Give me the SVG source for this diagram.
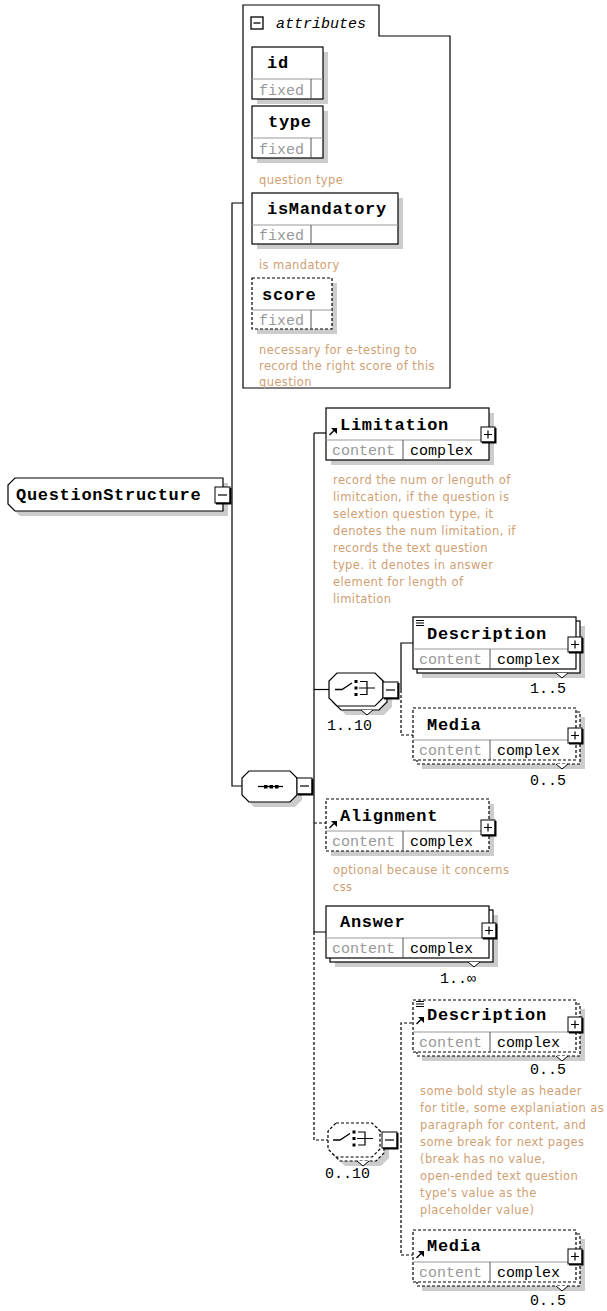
<svg xmlns="http://www.w3.org/2000/svg" xmlns:xlink="http://www.w3.org/1999/xlink" width="607" height="1311" viewBox="0 0 607 1311">
<style>
.box{fill:#fff;stroke:#000;stroke-width:1.2}
.dbox{fill:#fff;stroke:#000;stroke-width:1.2;stroke-dasharray:3 2}
.sh{fill:#cccccc}
.div{stroke:#999;stroke-width:1}
.vdiv{stroke:#555;stroke-width:1}
.name{font-family:"Liberation Mono",monospace;font-weight:bold;font-size:17px;letter-spacing:0.7px;fill:#000}
.cont{font-family:"Liberation Mono",monospace;font-size:15px;fill:#999}
.cplx{font-family:"Liberation Mono",monospace;font-size:15px;fill:#000}
.occ{font-family:"Liberation Mono",monospace;font-size:15px;fill:#000}
.doc{font-family:"DejaVu Sans",sans-serif;font-size:11.5px;letter-spacing:0.4px;fill:#cfa074}
.ital{font-family:"Liberation Mono",monospace;font-style:italic;font-size:15px;fill:#000}
.conn{stroke:#000;stroke-width:1.2;fill:none}
.dconn{stroke:#000;stroke-width:1.2;fill:none;stroke-dasharray:3 2}
.pt{stroke:#000;stroke-width:1;fill:#fff}
</style>
<defs>
<g id="tplus"><rect x="0" y="0" width="14" height="15" fill="#fff" stroke="#000" stroke-width="1"/><path d="M14.5,1 V15.5 H1" stroke="#000" stroke-width="2" fill="none"/><path d="M3,7.5 H11 M7,3.5 V11.5" stroke="#000" stroke-width="1.2"/></g>
<g id="tminus"><rect x="0" y="0" width="15" height="16" fill="#fff" stroke="#000" stroke-width="1"/><path d="M15.5,1 V16.5 H1" stroke="#000" stroke-width="2" fill="none"/><path d="M3,8 H12" stroke="#000" stroke-width="1.2"/></g>
<g id="ref"><path d="M0.5,8 L5,3.5" stroke="#000" stroke-width="1.5"/><polygon points="2,1 8,1 8,7" fill="#000"/></g>
<g id="doci"><path d="M0,0.5 H8 M0,3 H8 M0,5.5 H8" stroke="#000" stroke-width="1"/></g>
<g id="choiceicon"><path d="M335,689.5 H342 L352,683" stroke="#000" stroke-width="1.3" fill="none"/><rect x="354.5" y="680" width="3" height="3" fill="#000"/><rect x="354.5" y="686.5" width="3" height="3" fill="#000"/><rect x="354.5" y="693" width="3" height="3" fill="#000"/><path d="M360,681.5 H367 V694.5 H360 M359,688 H375" stroke="#000" stroke-width="1.2" fill="none"/></g>
</defs>
<rect width="607" height="1311" fill="#fff"/>

<g id="connectors">
<path class="conn" d="M243,203 H232 V786 H242"/>
<path class="conn" d="M314,433 H326"/>
<path class="conn" d="M314,433 V932 H326"/>
<path class="conn" d="M314,689.5 H329"/>
<path class="dconn" d="M314,823 H326"/>
<path class="dconn" d="M314,932 V1140 H328"/>
<path class="conn" d="M401,690 V643 H413"/>
<path class="dconn" d="M401,690 V735 H413"/>
<path class="dconn" d="M401,1140 V1023 H413"/>
<path class="dconn" d="M401,1140 V1255 H413"/>
</g>

<g id="attributes">
<path class="box" d="M243,5 H379 V36 H450 V388 H243 Z"/>
<rect x="251" y="17" width="12" height="12" fill="#fff" stroke="#000" stroke-width="1.3"/>
<path d="M253.5,23 H260.5" stroke="#000" stroke-width="1.3"/>
<text class="ital" x="276" y="28">attributes</text>
<g id="attr-id">
<rect class="sh" x="257" y="52" width="71" height="52"/>
<rect class="box" x="252" y="47" width="71" height="52"/>
<line class="div" x1="252" y1="79" x2="323" y2="79"/>
<line class="vdiv" x1="311" y1="79" x2="311" y2="99"/>
<text class="name" x="267" y="68">id</text>
<text class="cont" x="259" y="95">fixed</text>
</g>
<g id="attr-type">
<rect class="sh" x="257" y="111" width="71" height="52"/>
<rect class="box" x="252" y="106" width="71" height="52"/>
<line class="div" x1="252" y1="138" x2="323" y2="138"/>
<line class="vdiv" x1="311" y1="138" x2="311" y2="158"/>
<text class="name" x="268" y="127">type</text>
<text class="cont" x="259" y="154">fixed</text>
<text class="doc" x="259" y="184">question type</text>
</g>
<g id="attr-isMandatory">
<rect class="sh" x="257" y="198" width="146" height="51"/>
<rect class="box" x="252" y="193" width="146" height="51"/>
<line class="div" x1="252" y1="225" x2="398" y2="225"/>
<line class="vdiv" x1="311" y1="225" x2="311" y2="244"/>
<text class="name" x="267" y="214">isMandatory</text>
<text class="cont" x="259" y="240">fixed</text>
<text class="doc" x="259" y="269">is mandatory</text>
</g>
<g id="attr-score">
<rect class="sh" x="257" y="283" width="80" height="51"/>
<rect class="dbox" x="252" y="278" width="80" height="51"/>
<line class="div" x1="252" y1="310" x2="332" y2="310"/>
<line class="vdiv" x1="311" y1="310" x2="311" y2="329"/>
<text class="name" x="262" y="300">score</text>
<text class="cont" x="259" y="325">fixed</text>
<text class="doc" x="259" y="354">necessary for e-testing to</text>
<text class="doc" x="259" y="370">record the right score of this</text>
<text class="doc" x="259" y="386">question</text>
</g>
</g>

<g id="QuestionStructure">
<polygon class="sh" points="20,483 228,483 228,516 20,516 13,509 13,490"/>
<polygon class="box" points="15,478 223,478 223,511 15,511 8,504 8,485"/>
<text class="name" x="16" y="500">QuestionStructure</text>
<use xlink:href="#tminus" x="215" y="487"/>
</g>

<g id="sequence">
<polygon class="sh" points="254,776 295,776 302,783 302,800 295,807 254,807 247,800 247,783"/>
<polygon class="box" points="249,771 290,771 297,778 297,795 290,802 249,802 242,795 242,778"/>
<path d="M258,786.5 H283" stroke="#000" stroke-width="1.3"/>
<rect x="264" y="785" width="3.5" height="3.5" fill="#000"/>
<rect x="269.5" y="785" width="3.5" height="3.5" fill="#000"/>
<rect x="275" y="785" width="3.5" height="3.5" fill="#000"/>
<use xlink:href="#tminus" x="297" y="778"/>
</g>

<g id="Limitation">
<rect class="sh" x="331" y="413" width="163" height="52"/>
<rect class="box" x="326" y="408" width="163" height="52"/>
<line class="div" x1="326" y1="440" x2="489" y2="440"/>
<line class="vdiv" x1="403" y1="440" x2="403" y2="460"/>
<text class="name" x="340" y="430">Limitation</text>
<text class="cont" x="332" y="455">content</text>
<text class="cplx" x="410" y="455">complex</text>
<use xlink:href="#ref" x="329" y="427"/>
<use xlink:href="#tplus" x="481" y="427"/>
<text class="doc" x="333" y="484">record the num or lenguth of</text>
<text class="doc" x="333" y="501">limitcation, if the question is</text>
<text class="doc" x="333" y="518">selextion question type, it</text>
<text class="doc" x="333" y="535">denotes the num limitation, if</text>
<text class="doc" x="333" y="552">records the text question</text>
<text class="doc" x="333" y="569">type. it denotes in answer</text>
<text class="doc" x="333" y="586">element for length of</text>
<text class="doc" x="333" y="603">limitation</text>
</g>

<g id="choice1">
<polygon class="sh" points="346,682 384,682 392,690 392,707 384,715 346,715 338,707 338,690"/>
<polygon class="box" points="341,677 379,677 387,685 387,702 379,710 341,710 333,702 333,685"/>
<polygon class="box" points="337,673 375,673 383,681 383,698 375,706 337,706 329,698 329,681"/>
<path class="pt" d="M361,710 L367,715 L373,710"/>
<use xlink:href="#choiceicon"/>
<use xlink:href="#tminus" x="383" y="682"/>
<text class="occ" x="327" y="730">1..10</text>
</g>

<g id="Description1">
<rect class="sh" x="422" y="626" width="163" height="52"/>
<rect class="box" x="417" y="621" width="163" height="52"/>
<rect class="box" x="413" y="617" width="163" height="52"/>
<line class="div" x1="413" y1="649" x2="576" y2="649"/>
<line class="vdiv" x1="490" y1="649" x2="490" y2="669"/>
<use xlink:href="#doci" x="416" y="620"/>
<text class="name" x="427" y="639">Description</text>
<text class="cont" x="419" y="664">content</text>
<text class="cplx" x="497" y="664">complex</text>
<use xlink:href="#tplus" x="568" y="637"/>
<path class="pt" d="M556,673 L562,678 L568,673"/>
<text class="occ" x="530" y="693">1..5</text>
</g>

<g id="Media1">
<rect class="sh" x="422" y="717" width="163" height="52"/>
<rect class="dbox" x="417" y="712" width="163" height="52"/>
<rect class="dbox" x="413" y="708" width="163" height="52"/>
<line class="div" x1="413" y1="740" x2="576" y2="740"/>
<line class="vdiv" x1="490" y1="740" x2="490" y2="760"/>
<text class="name" x="427" y="730">Media</text>
<text class="cont" x="419" y="755">content</text>
<text class="cplx" x="497" y="755">complex</text>
<use xlink:href="#tplus" x="568" y="728"/>
<path class="pt" d="M556,764 L562,769 L568,764"/>
<text class="occ" x="530" y="785">0..5</text>
</g>

<g id="Alignment">
<rect class="sh" x="331" y="804" width="163" height="52"/>
<rect class="dbox" x="326" y="799" width="163" height="52"/>
<line class="div" x1="326" y1="831" x2="489" y2="831"/>
<line class="vdiv" x1="403" y1="831" x2="403" y2="851"/>
<text class="name" x="340" y="821">Alignment</text>
<text class="cont" x="332" y="846">content</text>
<text class="cplx" x="410" y="846">complex</text>
<use xlink:href="#ref" x="329" y="820"/>
<use xlink:href="#tplus" x="481" y="820"/>
<text class="doc" x="333" y="874">optional because it concerns</text>
<text class="doc" x="333" y="891">css</text>
</g>

<g id="Answer">
<rect class="sh" x="335" y="915" width="163" height="52"/>
<rect class="box" x="330" y="910" width="163" height="52"/>
<rect class="box" x="326" y="906" width="163" height="52"/>
<line class="div" x1="326" y1="938" x2="489" y2="938"/>
<line class="vdiv" x1="403" y1="938" x2="403" y2="958"/>
<text class="name" x="340" y="927">Answer</text>
<text class="cont" x="332" y="953">content</text>
<text class="cplx" x="410" y="953">complex</text>
<use xlink:href="#tplus" x="482" y="923"/>
<path class="pt" d="M468,962 L474,967 L480,962"/>
<text class="occ" x="440" y="983">1..∞</text>
</g>

<g id="choice2">
<polygon class="sh" points="345,1132 381,1132 389,1140 389,1158 381,1166 345,1166 337,1158 337,1140"/>
<polygon class="dbox" points="340,1127 376,1127 384,1135 384,1153 376,1161 340,1161 332,1153 332,1135"/>
<polygon class="dbox" points="336,1123 372,1123 380,1131 380,1149 372,1157 336,1157 328,1149 328,1131"/>
<path class="pt" d="M357,1161 L363,1166 L369,1161"/>
<use xlink:href="#choiceicon" transform="translate(-2,450.5)"/>
<use xlink:href="#tminus" x="382" y="1132"/>
<text class="occ" x="325" y="1178">0..10</text>
</g>

<g id="Description2">
<rect class="sh" x="422" y="1009" width="163" height="52"/>
<rect class="dbox" x="417" y="1004" width="163" height="52"/>
<rect class="dbox" x="413" y="1000" width="163" height="52"/>
<line class="div" x1="413" y1="1032" x2="576" y2="1032"/>
<line class="vdiv" x1="490" y1="1032" x2="490" y2="1052"/>
<use xlink:href="#doci" x="416" y="1001"/>
<use xlink:href="#ref" x="416" y="1016"/>
<text class="name" x="427" y="1020">Description</text>
<text class="cont" x="419" y="1047">content</text>
<text class="cplx" x="497" y="1047">complex</text>
<use xlink:href="#tplus" x="568" y="1017"/>
<path class="pt" d="M556,1056 L562,1061 L568,1056"/>
<text class="occ" x="530" y="1074">0..5</text>
<text class="doc" x="420" y="1095">some bold style as header</text>
<text class="doc" x="420" y="1112">for title, some explaniation as</text>
<text class="doc" x="420" y="1129">paragraph for content, and</text>
<text class="doc" x="420" y="1146">some break for next pages</text>
<text class="doc" x="420" y="1163">(break has no value,</text>
<text class="doc" x="420" y="1180">open-ended text question</text>
<text class="doc" x="420" y="1197">type's value as the</text>
<text class="doc" x="420" y="1214">placeholder value)</text>
</g>

<g id="Media2">
<rect class="sh" x="422" y="1239" width="163" height="52"/>
<rect class="dbox" x="417" y="1234" width="163" height="52"/>
<rect class="dbox" x="413" y="1230" width="163" height="52"/>
<line class="div" x1="413" y1="1262" x2="576" y2="1262"/>
<line class="vdiv" x1="490" y1="1262" x2="490" y2="1282"/>
<use xlink:href="#ref" x="416" y="1250"/>
<text class="name" x="427" y="1251">Media</text>
<text class="cont" x="419" y="1277">content</text>
<text class="cplx" x="497" y="1277">complex</text>
<use xlink:href="#tplus" x="568" y="1249"/>
<path class="pt" d="M556,1286 L562,1291 L568,1286"/>
<text class="occ" x="530" y="1305">0..5</text>
</g>
</svg>
